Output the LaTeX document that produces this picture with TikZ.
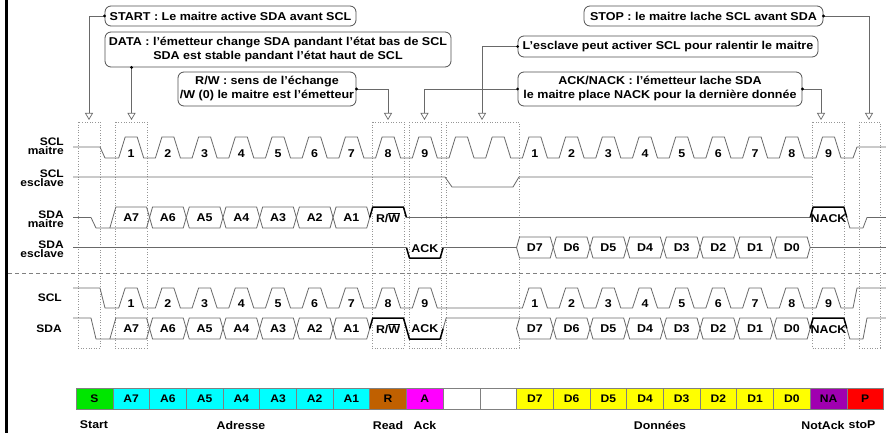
\documentclass[tikz,border=0pt]{standalone}
\usepackage{fontspec}
\setmainfont{Liberation Sans}[FakeStretch=1.1]
\usetikzlibrary{arrows.meta}
\definecolor{sigc}{RGB}{105,105,105}
\definecolor{boxc}{RGB}{80,80,80}
\definecolor{dotc}{RGB}{150,150,150}
\definecolor{cS}{RGB}{0,230,0}
\definecolor{cA}{RGB}{0,255,255}
\definecolor{cR}{RGB}{192,96,0}
\definecolor{cM}{RGB}{255,0,255}
\definecolor{cY}{RGB}{255,255,0}
\definecolor{cNA}{RGB}{160,0,176}
\definecolor{cP}{RGB}{255,0,0}
\newcommand\hexbox[5]{%
  \draw[hexl] ({bb(#1-1)},{(#2+#3)/2}) -- ({bb(#1-1)+3},#2) -- ({bb(#1)-3},#2) -- ({bb(#1)},{(#2+#3)/2}) -- ({bb(#1)-3},#3) -- ({bb(#1-1)+3},#3) -- cycle;
  \node[bit] (#5) at ({cc(#1)},{(#2+#3)/2}) {#4};}
\begin{document}
\begin{tikzpicture}[x=1pt,y=-1pt,
  declare function={cc(\k)=94.5+36.7*\k; bb(\k)=112.85+36.7*\k;},
  sig/.style={draw=sigc, line width=0.8pt, line join=round},
  boldl/.style={draw=black, line width=1.5pt, line join=round},
  hexl/.style={draw=sigc, line width=0.8pt, fill=white},
  bit/.style={font=\fontsize{11.3}{12}\selectfont\bfseries, inner sep=0pt, text height=8.1pt, text depth=0pt},
  callout/.style={draw=boxc, rounded corners=6pt, line width=0.8pt, font=\fontsize{11.4}{14}\selectfont\bfseries, align=center, inner sep=1pt},
  guide/.style={draw=sigc, line width=0.7pt, -{Triangle[length=7pt,width=8pt,fill=white]}},
  dotbox/.style={draw=dotc, dotted, line width=0.6pt},
  cell/.style={draw=gray, line width=0.6pt, minimum width=36.7pt, minimum height=21pt, inner sep=0pt, text height=8pt, text depth=0pt, font=\fontsize{11}{12}\selectfont\bfseries},
  lab/.style={font=\fontsize{10.9}{9.4}\selectfont\bfseries, align=right, inner sep=0pt, anchor=east},
  foot/.style={font=\fontsize{11.2}{12}\selectfont\bfseries, inner sep=0pt}]
\useasboundingbox (0,0) rectangle (886,433);
\fill[white] (0,0) rectangle (886,433);
% left border
\draw[line width=3pt] (6.5,0) -- (6.5,433);
% dotted boxes
\draw[dotbox] (78,122) rectangle (100,348);
\draw[dotbox] (115.2,122) rectangle (147.2,348);
\draw[dotbox] (372,122) rectangle (404,348);
\draw[dotbox] (408.8,122) rectangle (440.8,348);
\draw[dotbox] (446,122) rectangle (519,348);
\draw[dotbox] (812.5,122) rectangle (844.5,348);
\draw[dotbox] (859,122) rectangle (880,348);
% separator
\draw[draw=gray, line width=0.7pt, dash pattern=on 4pt off 3pt] (8,273) -- (886,273);
% callouts
\node[callout, minimum width=251pt, minimum height=20pt] (start) at (230.5,16) {START : Le maitre active SDA avant SCL};
\node[callout, minimum width=346pt, minimum height=35pt] (data) at (278,49.5) {DATA : l'émetteur change SDA pandant l'état bas de SCL\\SDA est stable pandant l'état haut de SCL};
\node[callout, minimum width=178pt, minimum height=34pt] (rw) at (267,89) {R/W : sens de l'échange\\/W (0) le maitre est l'émetteur};
\node[callout, minimum width=239pt, minimum height=20pt] (stop) at (703.5,16) {STOP : le maitre lache SCL avant SDA};
\node[callout, minimum width=300pt, minimum height=21pt] (escl) at (668,46.5) {L'esclave peut activer SCL pour ralentir le maitre};
\node[callout, minimum width=284pt, minimum height=34pt] (ackn) at (660,89) {ACK/NACK : l'émetteur lache SDA\\le maitre place NACK pour la dernière donnée};
% guide arrows
\coordinate (tS) at (89,120);
\coordinate (tD) at (131.5,120);
\coordinate (tR) at (388,120);
\coordinate (tA) at (424.5,120);
\coordinate (tE) at (482,120);
\coordinate (tN) at (821,120);
\coordinate (tP) at (869,120);
\draw[guide] (start.west) -| (tS);
\draw[guide] (data.south -| tD) -- (tD);
\draw[guide] (rw.east) -| (tR);
\draw[guide] (ackn.west) -| (tA);
\draw[guide] (escl.west) -| (tE);
\draw[guide] (ackn.east) -| (tN);
\draw[guide] (stop.east) -| (tP);
\foreach \p in {start.west, rw.east, ackn.west, escl.west, ackn.east, stop.east} \fill (\p) circle (1.6pt);
\fill (data.south -| tD) circle (1.6pt);
% left labels
\node[lab] (lsclm) at (64,146.5) {SCL\\maitre};
\node[lab] (lscle) at (64,178) {SCL\\esclave};
\node[lab] (lsdam) at (64,219.5) {SDA\\maitre};
\node[lab] (lsdae) at (64,249.5) {SDA\\esclave};
\node[lab] (lscl) at (62,298) {SCL};
\node[lab] (lsda) at (62,329) {SDA};
% ---- upper SCL maitre
\draw[sig] (73,147) -- (100,147) -- (105,158)
  \foreach \i in {1,...,20} { -- ({cc(\i)-12.5},158) -- ({cc(\i)-6},137) -- ({cc(\i)+6},137) -- ({cc(\i)+12.5},158) }
  -- (853,158) -- (857,147) -- (886,147);
\foreach \i/\n in {1/1,2/2,3/3,4/4,5/5,6/6,7/7,8/8,9/9,12/1,13/2,14/3,15/4,16/5,17/6,18/7,19/8,20/9}
  \node[bit] (pu\i) at ({cc(\i)},153) {\n};
% ---- upper SCL esclave
\draw[sig] (73,177) -- (445,177) -- (452,187) -- (513,187) -- (519,177) -- (812,177);
% ---- upper SDA maitre
\draw[sig] (73,217.5) -- (91,217.5) -- (96,228) -- ({bb(1)-3},228) -- ({bb(1)},217.5);
\draw[sig] ({bb(0)-3},228) -- ({bb(0)+3},207) -- ({bb(1)-3},207) -- ({bb(1)},217.5);
\node[bit] (ua1) at ({cc(1)},217.5) {A7};
\foreach \i/\t in {2/A6,3/A5,4/A4,5/A3,6/A2,7/A1} {\hexbox{\i}{207}{228}{\t}{ua\i}}
\draw[boldl] ({bb(7)},217.5) -- ({bb(7)+3},207) -- ({bb(8)-3},207) -- ({bb(8)},217.5);
\node[bit] (urw) at ({cc(8)},218) {R/$\overline{\hbox{W}}$};
\draw[sig] ({bb(8)},217.5) -- ({bb(19)},217.5);
\draw[boldl] ({bb(19)},217.5) -- ({bb(19)+3},207) -- ({bb(20)-3},207) -- ({bb(20)},217.5);
\draw[sig] ({bb(20)},217.5) -- ({bb(20)+3},228) -- (863,228) -- (867,217.5) -- (886,217.5);
\node[bit] (unack) at ({cc(20)},218.5) {NACK};
% ---- upper SDA esclave
\draw[sig] (73,247.5) -- ({bb(8)},247.5);
\draw[boldl] ({bb(8)},247.5) -- ({bb(8)+3},258) -- ({bb(9)-3},258) -- ({bb(9)},247.5);
\node[bit] (uack) at ({cc(9)},248.5) {ACK};
\draw[sig] ({bb(9)},247.5) -- ({bb(11)},247.5);
\foreach \i/\t in {12/D7,13/D6,14/D5,15/D4,16/D3,17/D2,18/D1,19/D0} {\hexbox{\i}{237}{258}{\t}{ud\i}}
\draw[sig] ({bb(19)},247.5) -- (886,247.5);
% ---- lower SCL
\draw[sig] (73,288) -- (100,288) -- (105,308)
  \foreach \i in {1,2,3,4,5,6,7,8,9,12,13,14,15,16,17,18,19,20} { -- ({cc(\i)-12.5},308) -- ({cc(\i)-6},288) -- ({cc(\i)+6},288) -- ({cc(\i)+12.5},308) }
  -- (853,308) -- (857,288) -- (886,288);
\foreach \i/\n in {1/1,2/2,3/3,4/4,5/5,6/6,7/7,8/8,9/9,12/1,13/2,14/3,15/4,16/5,17/6,18/7,19/8,20/9}
  \node[bit] (pl\i) at ({cc(\i)},303.5) {\n};
% ---- lower SDA
\draw[sig] (73,318) -- (91,318) -- (96,339) -- ({bb(1)-3},339) -- ({bb(1)},328.5);
\draw[sig] ({bb(0)-3},339) -- ({bb(0)+3},318) -- ({bb(1)-3},318) -- ({bb(1)},328.5);
\node[bit] (la1) at ({cc(1)},328.5) {A7};
\foreach \i/\t in {2/A6,3/A5,4/A4,5/A3,6/A2,7/A1} {\hexbox{\i}{318}{339}{\t}{la\i}}
\draw[boldl] ({bb(7)},328.5) -- ({bb(7)+3},318) -- ({bb(8)-3},318) -- ({bb(8)+3},339) -- ({bb(9)-3},339) -- ({bb(9)},328.5);
\node[bit] (lrw) at ({cc(8)},329) {R/$\overline{\hbox{W}}$};
\node[bit] (lack) at ({cc(9)},328.5) {ACK};
\draw[sig] ({bb(9)},328.5) -- ({bb(9)+3},318) -- ({bb(11)+3},318);
\foreach \i/\t in {12/D7,13/D6,14/D5,15/D4,16/D3,17/D2,18/D1,19/D0} {\hexbox{\i}{318}{339}{\t}{ld\i}}
\draw[boldl] ({bb(19)},328.5) -- ({bb(19)+3},318) -- ({bb(20)-3},318) -- ({bb(20)},328.5);
\draw[sig] ({bb(20)},328.5) -- ({bb(20)+3},339) -- (863,339) -- (867,318) -- (886,318);
\node[bit] (lnack) at ({cc(20)},329) {NACK};
% ---- frame bar
\foreach \i/\t/\c in {0/S/cS,1/A7/cA,2/A6/cA,3/A5/cA,4/A4/cA,5/A3/cA,6/A2/cA,7/A1/cA,8/R/cR,9/A/cM,10/{}/white,11/{}/white,12/D7/cY,13/D6/cY,14/D5/cY,15/D4/cY,16/D3/cY,17/D2/cY,18/D1/cY,19/D0/cY,20/NA/cNA,21/P/cP}
  \node[cell, fill=\c] (cell\i) at ({cc(\i)},398.5) {\t};
% ---- bottom labels
\node[foot] (fS) at (94,425) {Start};
\node[foot] (fA) at (241,425) {Adresse};
\node[foot] (fR) at (388,425) {Read};
\node[foot] (fK) at (425,425) {Ack};
\node[foot] (fD) at (660,425) {Données};
\node[foot] (fN) at (823,425) {NotAck};
\node[foot] (fP) at (862,425) {stoP};
\end{tikzpicture}
\end{document}
